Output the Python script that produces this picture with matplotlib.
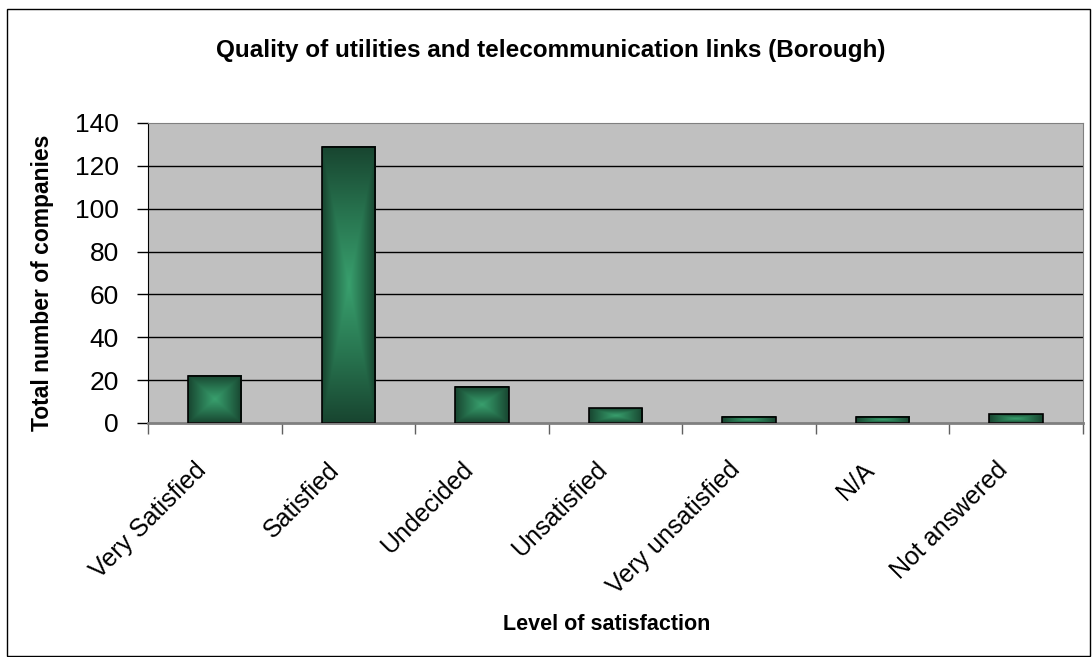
import numpy as np
import matplotlib
matplotlib.use('Agg')
import matplotlib.pyplot as plt
import matplotlib.transforms as mtransforms
from matplotlib.colors import LinearSegmentedColormap
from matplotlib.patches import Rectangle

plt.rcParams['font.family'] = ['Liberation Sans', 'DejaVu Sans']

categories = ['Very Satisfied', 'Satisfied', 'Undecided', 'Unsatisfied',
              'Very unsatisfied', 'N/A', 'Not answered']
values = [22, 129, 17, 7, 3, 3, 4]
yticks = [0, 20, 40, 60, 80, 100, 120, 140]

fig = plt.figure(figsize=(10.92, 6.57), dpi=100)
ax = fig.add_axes([148/1092, 1 - 423/657, 935/1092, 300/657])
ax.set_facecolor('#c0c0c0')

# outer chart border
fig.patches.append(Rectangle((7/1092, 1 - 656/657), 1083/1092, 647/657,
                             transform=fig.transFigure, fill=False,
                             edgecolor='black', linewidth=1))

ax.set_xlim(-0.5, len(categories) - 0.5)
ax.set_ylim(0, 140)

for y in yticks[1:-1]:
    ax.axhline(y, color='black', linewidth=1, zorder=1)

# box shaped gradient, bright in the middle, dark at the edges
cmap = LinearSegmentedColormap.from_list('g', ['#39a06e', '#287550', '#184530'])
n = 200
u = np.linspace(-1, 1, n)
U, V = np.meshgrid(u, u)
grad = np.maximum(np.abs(U), np.abs(V))

w = 0.4
bars = ax.bar(range(len(values)), values, width=w, color='none',
              edgecolor='black', linewidth=1.2, zorder=3)
for i, v in enumerate(values):
    ax.imshow(grad, cmap=cmap, extent=(i - w/2, i + w/2, 0, v), aspect='auto',
              zorder=2, interpolation='bilinear', vmin=0, vmax=1)

ax.set_xlim(-0.5, len(categories) - 0.5)
ax.set_ylim(0, 140)

ax.set_yticks(yticks)
ax.set_yticklabels([str(t) for t in yticks], fontsize=19)
ax.tick_params(axis='y', length=8, width=1, direction='out', pad=13)

ax.set_xticks(range(len(categories)))
ax.set_xticklabels(categories, fontsize=18, rotation=45, ha='right',
                   rotation_mode='anchor')
ax.tick_params(axis='x', which='major', length=0, pad=25)
shift = mtransforms.ScaledTranslation(-0.21, 0, fig.dpi_scale_trans)
for lab in ax.get_xticklabels():
    lab.set_transform(lab.get_transform() + shift)
ax.set_xticks(np.arange(-0.5, len(categories), 1), minor=True)
ax.tick_params(axis='x', which='minor', length=8, width=1, color='#606060')

for s in ['top', 'right', 'bottom']:
    ax.spines[s].set_color('#808080')
ax.spines['bottom'].set_linewidth(2)
ax.spines['left'].set_color('black')

fig.text(551/1092, 1 - 50/657, 'Quality of utilities and telecommunication links (Borough)',
         ha='center', va='center', fontsize=17.5, fontweight='bold')
fig.text(607/1092, 1 - 625/657, 'Level of satisfaction', ha='center', va='center',
         fontsize=15.5, fontweight='bold')
fig.text(43/1092, 1 - 283/657, 'Total number of companies', ha='center', va='center',
         rotation=90, fontsize=16.5, fontweight='bold')

plt.savefig('out.png', dpi=100)
